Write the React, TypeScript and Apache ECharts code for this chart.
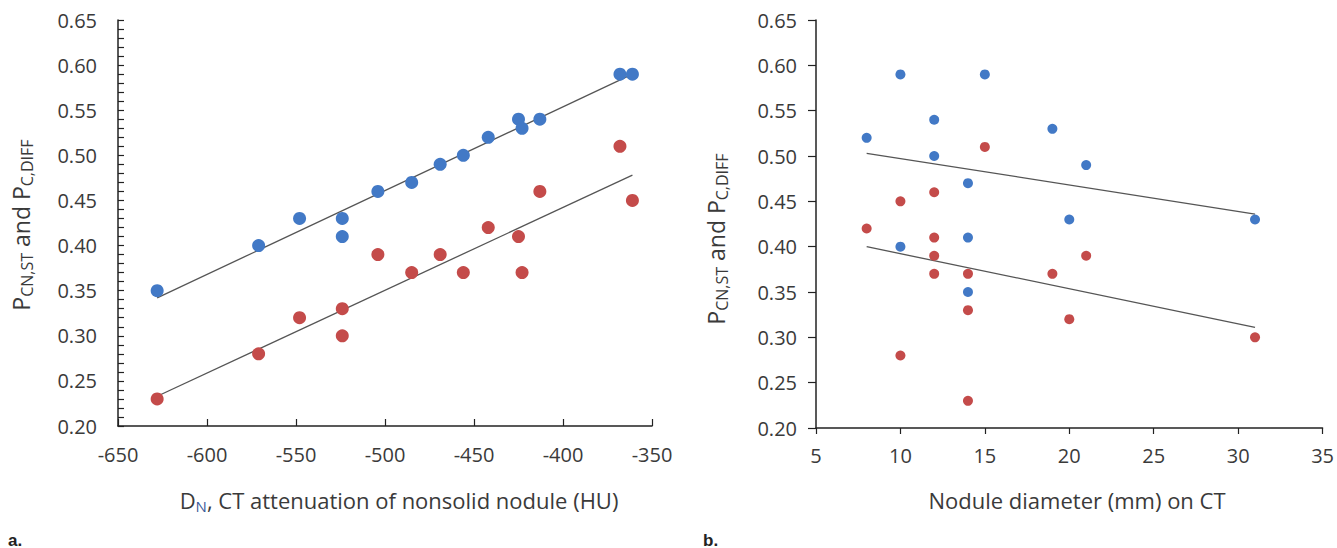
import React, { useEffect, useRef } from "react";
import * as echarts from "echarts";

const leftX = [-628, -571, -548, -524, -524, -504, -485, -469, -456, -442, -425, -423, -413, -368, -361];
const leftBlue = [0.35, 0.40, 0.43, 0.43, 0.41, 0.46, 0.47, 0.49, 0.50, 0.52, 0.54, 0.53, 0.54, 0.59, 0.59];
const leftRed = [0.23, 0.28, 0.32, 0.33, 0.30, 0.39, 0.37, 0.39, 0.37, 0.42, 0.41, 0.37, 0.46, 0.51, 0.45];
const leftTrendX = [-628, -361];
const leftBlueTrend = [0.342, 0.590];
const leftRedTrend = [0.233, 0.478];

const rightBlueX = [8, 10, 10, 12, 12, 14, 14, 14, 15, 19, 20, 21, 31];
const rightBlueY = [0.52, 0.59, 0.40, 0.54, 0.50, 0.47, 0.41, 0.35, 0.59, 0.53, 0.43, 0.49, 0.43];
const rightRedX = [8, 10, 10, 12, 12, 12, 12, 14, 14, 14, 15, 19, 20, 21, 31];
const rightRedY = [0.42, 0.45, 0.28, 0.46, 0.41, 0.39, 0.37, 0.37, 0.33, 0.23, 0.51, 0.37, 0.32, 0.39, 0.30];
const rightTrendX = [8, 31];
const rightBlueTrend = [0.503, 0.436];
const rightRedTrend = [0.400, 0.311];

const BLUE = "#4279C6";
const RED = "#C44B4A";
const TEXT = "#3a3a3a";
const FONT = "'Open Sans', 'Noto Sans', sans-serif";

const zip = (xs: number[], ys: number[]) => xs.map((x, i) => [x, ys[i]]);

export default function App() {
  const ref = useRef<HTMLDivElement>(null);
  useEffect(() => {
    if (!ref.current) return;
    const chart = echarts.init(ref.current, null, { renderer: "svg" });
    const axisLine = { show: true, lineStyle: { color: "#222", width: 1.5 } };
    const tickLine = { color: "#222", width: 1.2 };
    const label = { color: TEXT, fontSize: 20, fontFamily: FONT };
    const yName = {
      p: { fontSize: 23, fontFamily: FONT, fill: TEXT, lineHeight: 23 },
      s: { fontSize: 16, fontFamily: FONT, fill: TEXT, lineHeight: 16, padding: [12, 0, 0, 0] },
    };
    chart.setOption({
      animation: false,
      grid: [
        { left: 118, top: 20, width: 534, height: 406 },
        { left: 816, top: 20, width: 509, height: 408 },
      ],
      xAxis: [
        {
          gridIndex: 0, type: "value", min: -650, max: -350, interval: 50,
          axisLine, axisTick: { show: true, inside: true, length: 7, lineStyle: tickLine },
          axisLabel: { ...label, margin: 18 }, splitLine: { show: false },
        },
        {
          gridIndex: 1, type: "value", min: 5, max: 35, interval: 5,
          axisLine, axisTick: { show: true, inside: false, length: 6, lineStyle: tickLine },
          axisLabel: { ...label, margin: 17 }, splitLine: { show: false },
        },
      ],
      yAxis: [
        {
          gridIndex: 0, type: "value", min: 0.2, max: 0.65, interval: 0.05,
          axisLine, axisTick: { show: true, inside: true, length: 6, lineStyle: tickLine },
          minorTick: { show: true, splitNumber: 5, length: 6, lineStyle: tickLine },
          axisLabel: { ...label, margin: 21, formatter: (v: number) => v.toFixed(2) },
          splitLine: { show: false },
        },
        {
          gridIndex: 1, type: "value", min: 0.2, max: 0.65, interval: 0.05,
          axisLine, axisTick: { show: true, inside: false, length: 8, lineStyle: tickLine },
          axisLabel: { ...label, margin: 19, formatter: (v: number) => v.toFixed(2) },
          splitLine: { show: false },
        },
      ],
      series: [
        { type: "line", xAxisIndex: 0, yAxisIndex: 0, data: zip(leftTrendX, leftBlueTrend), symbol: "none", lineStyle: { color: "#555", width: 1.3 }, z: 1 },
        { type: "line", xAxisIndex: 0, yAxisIndex: 0, data: zip(leftTrendX, leftRedTrend), symbol: "none", lineStyle: { color: "#555", width: 1.3 }, z: 1 },
        { type: "scatter", xAxisIndex: 0, yAxisIndex: 0, data: zip(leftX, leftBlue), symbolSize: 13, itemStyle: { color: BLUE, opacity: 1 }, z: 2 },
        { type: "scatter", xAxisIndex: 0, yAxisIndex: 0, data: zip(leftX, leftRed), symbolSize: 13, itemStyle: { color: RED, opacity: 1 }, z: 2 },
        { type: "line", xAxisIndex: 1, yAxisIndex: 1, data: zip(rightTrendX, rightBlueTrend), symbol: "none", lineStyle: { color: "#555", width: 1.3 }, z: 1 },
        { type: "line", xAxisIndex: 1, yAxisIndex: 1, data: zip(rightTrendX, rightRedTrend), symbol: "none", lineStyle: { color: "#555", width: 1.3 }, z: 1 },
        { type: "scatter", xAxisIndex: 1, yAxisIndex: 1, data: zip(rightBlueX, rightBlueY), symbolSize: 10, itemStyle: { color: BLUE, opacity: 1 }, z: 2 },
        { type: "scatter", xAxisIndex: 1, yAxisIndex: 1, data: zip(rightRedX, rightRedY), symbolSize: 10, itemStyle: { color: RED, opacity: 1 }, z: 2 },
      ],
      graphic: [
        {
          type: "text", x: 399, y: 500,
          style: {
            text: "{p|D}{s|N}{p|, CT attenuation of nonsolid nodule (HU)}",
            align: "center", verticalAlign: "middle",
            rich: { p: { ...yName.p, fontSize: 22, lineHeight: 22 }, s: { ...yName.s, fontSize: 15, lineHeight: 15, fill: "#3a5a9a", padding: [12, 0, 0, 0] } },
          },
        },
        {
          type: "text", x: 1077, y: 500,
          style: { text: "Nodule diameter (mm) on CT", align: "center", verticalAlign: "middle", fontSize: 22, fontFamily: FONT, fill: TEXT },
        },
        {
          type: "text", x: 21, y: 225, rotation: Math.PI / 2,
          style: { text: "{p|P}{s|CN,ST}{p| and P}{s|C,DIFF}", align: "center", verticalAlign: "middle", rich: yName },
        },
        {
          type: "text", x: 716, y: 239, rotation: Math.PI / 2,
          style: { text: "{p|P}{s|CN,ST}{p| and P}{s|C,DIFF}", align: "center", verticalAlign: "middle", rich: yName },
        },
        {
          type: "text", x: 8, y: 540,
          style: { text: "a.", fontSize: 17, fontWeight: "bold", fontFamily: "'Liberation Sans Narrow', 'Liberation Sans', sans-serif", fill: "#222", verticalAlign: "middle" },
        },
        {
          type: "text", x: 703, y: 540,
          style: { text: "b.", fontSize: 17, fontWeight: "bold", fontFamily: "'Liberation Sans Narrow', 'Liberation Sans', sans-serif", fill: "#222", verticalAlign: "middle" },
        },
      ],
    });
    return () => chart.dispose();
  }, []);
  return <div ref={ref} style={{ position: "fixed", left: 0, top: 0, width: 1337, height: 548, background: "#fff" }} />;
}
